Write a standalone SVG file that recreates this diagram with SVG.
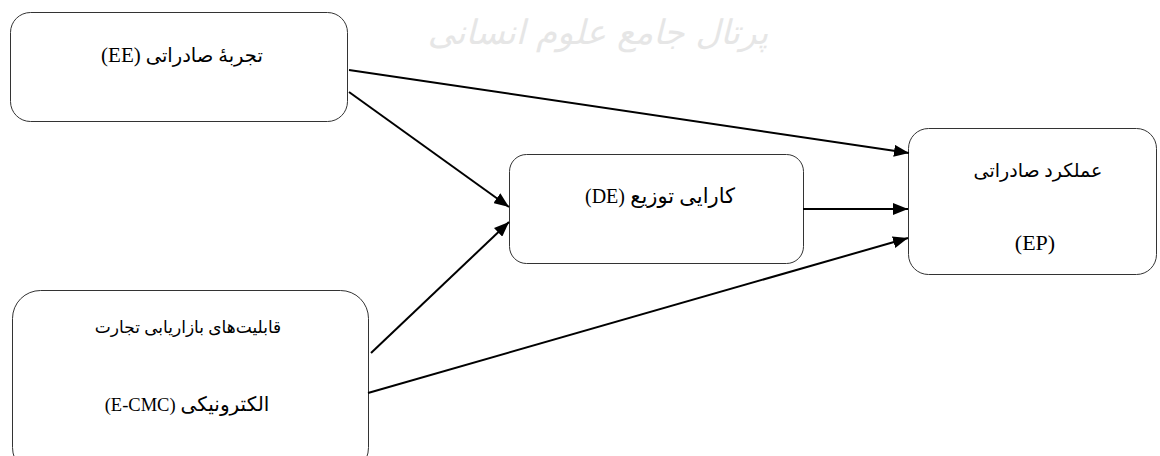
<svg xmlns="http://www.w3.org/2000/svg" width="1160" height="456" viewBox="0 0 1160 456">
  <style>
    .box { fill: #ffffff; stroke: #333333; stroke-width: 1; }
    .lbl { font-family: "Liberation Serif", "DejaVu Sans", serif; font-size: 19px; fill: #000000; text-anchor: middle; direction: rtl; unicode-bidi: embed; }
    .lat { font-family: "Liberation Serif", serif; }
    .conn { stroke: #000000; stroke-width: 2; fill: none; marker-end: url(#arrow); }
    .wm { font-family: "DejaVu Sans", sans-serif; font-size: 34px; fill: #e6e6e6; text-anchor: middle; direction: rtl; unicode-bidi: embed; font-style: italic; }
  </style>
  <defs>
    <marker id="arrow" markerUnits="userSpaceOnUse" markerWidth="16" markerHeight="12" refX="15" refY="6" orient="auto">
      <path d="M0,0 L15,6 L0,12 z" fill="#000000"/>
    </marker>
  </defs>
  <rect width="1160" height="456" fill="#ffffff"/>
  <text class="wm" x="598" y="44">پرتال جامع علوم انسانی</text>

  <g id="node-ee">
    <rect class="box" x="10.5" y="12.5" width="337" height="109" rx="20" ry="20"/>
    <text class="lbl" x="182" y="62" style="font-size:19.5px">تجربهٔ صادراتی <tspan class="lat" style="font-size:21px">(EE)</tspan></text>
  </g>
  <g id="node-de">
    <rect class="box" x="509.5" y="154.5" width="294" height="109" rx="17" ry="17"/>
    <text class="lbl" x="660" y="203" style="font-size:21px">کارایی توزیع <tspan class="lat" style="font-size:20px">(DE)</tspan></text>
  </g>
  <g id="node-ep">
    <rect class="box" x="908.5" y="128.5" width="248" height="146" rx="20" ry="20"/>
    <text class="lbl" x="1038" y="177" style="font-size:19px">عملکرد صادراتی</text>
    <text class="lbl" x="1035" y="250" style="font-size:22px">(EP)</text>
  </g>
  <g id="node-ecmc">
    <rect class="box" x="12.5" y="290.5" width="356" height="185" rx="28" ry="28"/>
    <text class="lbl" x="188" y="333" style="font-size:17px">قابلیت‌های بازاریابی تجارت</text>
    <text class="lbl" x="187" y="411" style="font-size:20px">الکترونیکی <tspan class="lat" style="font-size:18.5px">(E-CMC)</tspan></text>
  </g>

  <g id="connectors">
    <line class="conn" x1="349" y1="70" x2="909" y2="153"/>
    <line class="conn" x1="349" y1="92" x2="509" y2="207"/>
    <line class="conn" x1="371" y1="353" x2="509" y2="222"/>
    <line class="conn" x1="368" y1="393" x2="908" y2="238"/>
    <line class="conn" x1="803" y1="209" x2="908" y2="209"/>
  </g>
</svg>
